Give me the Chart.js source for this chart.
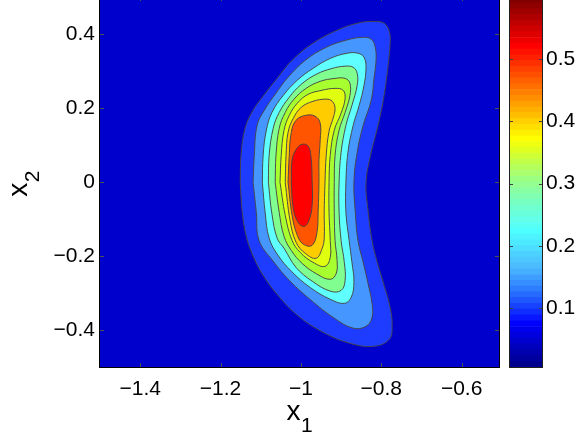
<!DOCTYPE html>
<html><head><meta charset="utf-8">
<script src="https://cdn.jsdelivr.net/npm/chart.js@4/dist/chart.umd.min.js"></script>
<style>
html,body{margin:0;padding:0;background:#fff;width:584px;height:439px;overflow:hidden;position:relative}
#main{position:absolute;left:0;top:-10px}
#cb{position:absolute;left:500px;top:-10px}
</style></head><body>
<canvas id="main" width="505" height="449"></canvas>
<canvas id="cb" width="84" height="449"></canvas>
<script>
// ---- axes / ticks ----
const xRange = [-1.5, -0.507];
const yRange = [-0.5, 0.5];
const cbRange = [0.005, 0.6];
const xTickVals = [-1.4, -1.2, -1, -0.8, -0.6];
const yTickVals = [-0.4, -0.2, 0, 0.2, 0.4];
const cbTickVals = [0.1, 0.2, 0.3, 0.4, 0.5];
const xLabel = ['x', '1'];
const yLabel = ['x', '2'];

// ---- contour lines (x1, x2), outermost first ----
const contour1 = [[-1.151,-0.001],[-1.149,0.072],[-1.139,0.145],[-1.119,0.194],[-1.094,0.232],[-1.057,0.283],[-1.022,0.329],[-0.970,0.375],[-0.910,0.410],[-0.860,0.429],[-0.820,0.434],[-0.793,0.429],[-0.780,0.407],[-0.778,0.375],[-0.783,0.315],[-0.793,0.234],[-0.808,0.153],[-0.825,0.080],[-0.838,-0.001],[-0.833,-0.076],[-0.823,-0.158],[-0.810,-0.217],[-0.793,-0.279],[-0.778,-0.339],[-0.773,-0.390],[-0.780,-0.425],[-0.818,-0.444],[-0.878,-0.436],[-0.945,-0.406],[-1.009,-0.360],[-1.059,-0.304],[-1.096,-0.249],[-1.121,-0.195],[-1.136,-0.147],[-1.146,-0.082],[-1.151,-0.001]];
const contour2 = [[-1.119,-0.001],[-1.116,0.072],[-1.109,0.153],[-1.091,0.194],[-1.062,0.240],[-1.032,0.283],[-0.989,0.329],[-0.937,0.364],[-0.888,0.383],[-0.848,0.391],[-0.825,0.386],[-0.815,0.364],[-0.813,0.329],[-0.818,0.280],[-0.825,0.221],[-0.845,0.153],[-0.860,0.080],[-0.868,-0.001],[-0.865,-0.076],[-0.858,-0.158],[-0.845,-0.217],[-0.833,-0.274],[-0.823,-0.328],[-0.823,-0.366],[-0.838,-0.390],[-0.870,-0.395],[-0.917,-0.368],[-0.972,-0.322],[-1.027,-0.268],[-1.069,-0.214],[-1.104,-0.158],[-1.111,-0.082],[-1.119,-0.001]];
const contour3 = [[-1.096,-0.001],[-1.094,0.072],[-1.086,0.140],[-1.072,0.188],[-1.044,0.234],[-1.009,0.275],[-0.970,0.307],[-0.927,0.334],[-0.885,0.348],[-0.858,0.348],[-0.843,0.337],[-0.838,0.310],[-0.843,0.261],[-0.855,0.207],[-0.870,0.153],[-0.883,0.080],[-0.888,-0.001],[-0.888,-0.082],[-0.880,-0.158],[-0.873,-0.217],[-0.868,-0.271],[-0.875,-0.312],[-0.892,-0.328],[-0.927,-0.317],[-0.977,-0.285],[-1.024,-0.241],[-1.057,-0.198],[-1.079,-0.152],[-1.089,-0.082],[-1.096,-0.001]];
const contour4 = [[-1.081,-0.001],[-1.079,0.072],[-1.069,0.145],[-1.054,0.188],[-1.029,0.229],[-0.999,0.264],[-0.962,0.291],[-0.922,0.307],[-0.890,0.313],[-0.870,0.310],[-0.860,0.294],[-0.860,0.261],[-0.873,0.207],[-0.888,0.153],[-0.900,0.080],[-0.905,-0.001],[-0.905,-0.082],[-0.900,-0.158],[-0.892,-0.217],[-0.890,-0.266],[-0.900,-0.293],[-0.927,-0.295],[-0.972,-0.268],[-1.012,-0.231],[-1.042,-0.179],[-1.059,-0.152],[-1.072,-0.087],[-1.081,-0.001]];
const contour5 = [[-1.064,-0.001],[-1.062,0.072],[-1.054,0.145],[-1.039,0.188],[-1.017,0.224],[-0.987,0.253],[-0.952,0.272],[-0.915,0.280],[-0.890,0.280],[-0.878,0.267],[-0.878,0.234],[-0.890,0.188],[-0.905,0.140],[-0.915,0.072],[-0.917,-0.001],[-0.917,-0.082],[-0.915,-0.158],[-0.910,-0.212],[-0.912,-0.247],[-0.927,-0.263],[-0.960,-0.249],[-0.997,-0.220],[-1.024,-0.185],[-1.042,-0.147],[-1.054,-0.082],[-1.064,-0.001]];
const contour6 = [[-1.052,-0.001],[-1.049,0.072],[-1.042,0.140],[-1.029,0.180],[-1.009,0.213],[-0.982,0.237],[-0.947,0.248],[-0.915,0.253],[-0.895,0.248],[-0.890,0.226],[-0.900,0.186],[-0.917,0.140],[-0.927,0.072],[-0.930,-0.001],[-0.930,-0.082],[-0.927,-0.158],[-0.927,-0.204],[-0.940,-0.228],[-0.970,-0.217],[-1.002,-0.190],[-1.022,-0.158],[-1.039,-0.090],[-1.052,-0.001]];
const contour7 = [[-1.039,-0.001],[-1.037,0.072],[-1.032,0.134],[-1.019,0.172],[-0.999,0.202],[-0.970,0.218],[-0.937,0.224],[-0.922,0.218],[-0.915,0.199],[-0.920,0.172],[-0.930,0.137],[-0.937,0.072],[-0.940,-0.001],[-0.942,-0.082],[-0.942,-0.152],[-0.947,-0.179],[-0.962,-0.206],[-0.989,-0.193],[-1.012,-0.163],[-1.027,-0.104],[-1.039,-0.001]];
const contour8 = [[-1.032,-0.001],[-1.029,0.072],[-1.024,0.134],[-1.012,0.167],[-0.989,0.180],[-0.965,0.178],[-0.952,0.159],[-0.952,0.113],[-0.955,0.059],[-0.955,-0.001],[-0.957,-0.076],[-0.960,-0.136],[-0.972,-0.171],[-0.994,-0.168],[-1.009,-0.144],[-1.022,-0.090],[-1.032,-0.001]];
const contour9 = [[-1.024,-0.001],[-1.022,0.059],[-1.012,0.088],[-0.997,0.102],[-0.982,0.097],[-0.975,0.069],[-0.972,-0.001],[-0.972,-0.063],[-0.980,-0.104],[-0.992,-0.120],[-1.007,-0.109],[-1.019,-0.071],[-1.024,-0.001]];

// fill colour inside each contour, and the level below the first contour
const bgColor = '#0000CD';
const bandColors = ['#1E3CFF','#4696FF','#5FFFFF','#80FF90','#A8FF30','#E0FF10','#FFCC00','#FF5500','#FF0000'];
const lineColor = 'rgba(70,70,70,0.95)';

const FONT = '"Liberation Sans", Arial, Helvetica, sans-serif';
const fmt = v => (v < 0 ? '\u2212' : '') + String(Math.abs(v));

const contours = [contour1, contour2, contour3, contour4, contour5, contour6, contour7, contour8, contour9];
const datasets = contours.map((c, i) => ({
  data: c.map(p => ({x: p[0], y: p[1]})),
  backgroundColor: bandColors[i],
  borderColor: lineColor,
  borderWidth: 1,
  fill: 'shape',
  tension: 0.4,
  pointRadius: 0,
  pointHoverRadius: 0,
  order: contours.length - i
}));

const noPad = s => { s.paddingTop = 0; s.paddingBottom = 0; s.paddingLeft = 0; s.paddingRight = 0; };

const mainDeco = {
  id: 'mainDeco',
  beforeDatasetsDraw(chart) {
    const {ctx, chartArea: a} = chart;
    ctx.save();
    ctx.fillStyle = bgColor;
    ctx.fillRect(a.left, a.top, a.right - a.left, a.bottom - a.top);
    ctx.restore();
  },
  afterDatasetsDraw(chart) {
    const {ctx, chartArea: a, scales} = chart;
    ctx.save();
    ctx.strokeStyle = '#505050';
    ctx.lineWidth = 1;
    ctx.beginPath();
    xTickVals.forEach(v => {
      const px = Math.round(scales.x.getPixelForValue(v)) + 0.5;
      ctx.moveTo(px, a.bottom); ctx.lineTo(px, a.bottom - 4);
      ctx.moveTo(px, a.top); ctx.lineTo(px, a.top + 4);
    });
    yTickVals.forEach(v => {
      const py = Math.round(scales.y.getPixelForValue(v)) + 0.5;
      ctx.moveTo(a.left, py); ctx.lineTo(a.left + 4, py);
      ctx.moveTo(a.right, py); ctx.lineTo(a.right - 4, py);
    });
    ctx.stroke();
    ctx.strokeStyle = '#000';
    ctx.strokeRect(a.left - 0.5, a.top - 0.5, a.right - a.left + 1, a.bottom - a.top + 1);
    ctx.restore();
  },
  afterDraw(chart) {
    const ctx = chart.ctx;
    ctx.save();
    ctx.fillStyle = '#000';
    ctx.textAlign = 'left';
    ctx.textBaseline = 'alphabetic';
    ctx.font = '28px ' + FONT;
    ctx.fillText(xLabel[0], 286.5, 430);
    ctx.font = '21px ' + FONT;
    ctx.fillText(xLabel[1], 301, 441.5);
    ctx.translate(26.5, 206.7);
    ctx.rotate(-Math.PI / 2);
    ctx.font = '28px ' + FONT;
    ctx.fillText(yLabel[0], 0, 0);
    ctx.font = '21px ' + FONT;
    ctx.fillText(yLabel[1], 14.5, 12);
    ctx.restore();
  }
};

new Chart(document.getElementById('main'), {
  type: 'line',
  data: {datasets},
  options: {
    responsive: false,
    animation: false,
    events: [],
    layout: {padding: {left: 0, top: 7, right: 6, bottom: 0}},
    plugins: {legend: {display: false}, tooltip: {enabled: false}, filler: {propagate: false}},
    scales: {
      x: {
        type: 'linear', min: xRange[0], max: xRange[1],
        afterBuildTicks: s => { s.ticks = xTickVals.map(v => ({value: v})); },
        afterFit: s => { s.height = 72; noPad(s); },
        grid: {display: false, drawTicks: false},
        border: {display: false},
        ticks: {padding: 10, color: '#000', font: {family: FONT, size: 21}, autoSkip: false, maxRotation: 0, callback: fmt}
      },
      y: {
        type: 'linear', min: yRange[0], max: yRange[1],
        afterBuildTicks: s => { s.ticks = yTickVals.map(v => ({value: v})); },
        afterFit: s => { s.width = 100; noPad(s); },
        grid: {display: false, drawTicks: false},
        border: {display: false},
        ticks: {padding: 5, color: '#000', font: {family: FONT, size: 21}, autoSkip: false, callback: fmt}
      }
    }
  },
  plugins: [mainDeco]
});

// ---- colour bar (jet, 64 steps, toned like the picture) ----
function jet(m) {
  const n = Math.ceil(m / 4);
  const u = [];
  for (let i = 1; i <= n; i++) u.push(i / n);
  for (let i = 1; i < n; i++) u.push(1);
  for (let i = n; i >= 1; i--) u.push(i / n);
  const gOff = Math.ceil(n / 2) - (m % 4 === 1 ? 1 : 0);
  const r = new Array(m).fill(0), g = new Array(m).fill(0), b = new Array(m).fill(0);
  u.forEach((val, k) => {
    const gi = gOff + k + 1, ri = gi + n, bi = gi - n;
    if (gi >= 1 && gi <= m) g[gi - 1] = val;
    if (ri >= 1 && ri <= m) r[ri - 1] = val;
    if (bi >= 1 && bi <= m) b[bi - 1] = val;
  });
  return r.map((_, i) => {
    const k = i + 1;
    let w = 0;
    if (k > 8 && k < 18) w = 0.3 * (k - 8) / 10;
    else if (k >= 18 && k <= 26) w = 0.3;
    else if (k > 26 && k < 38) w = 0.3 * (38 - k) / 12;
    const mix = c => Math.round(c * 255 + w * (255 - c * 255));
    return `rgb(${mix(r[i])},${mix(g[i])},${mix(b[i])})`;
  });
}
const cmap = jet(64);
const step = (cbRange[1] - cbRange[0]) / cmap.length;
const cbDatasets = cmap.map((c, i) => ({
  data: [[cbRange[0] + i * step, cbRange[0] + (i + 1) * step]],
  backgroundColor: c,
  borderWidth: 0,
  grouped: false,
  barPercentage: 1,
  categoryPercentage: 1
}));

const cbDeco = {
  id: 'cbDeco',
  afterDatasetsDraw(chart) {
    const {ctx, chartArea: a, scales} = chart;
    ctx.save();
    ctx.strokeStyle = '#404040';
    ctx.lineWidth = 1;
    ctx.beginPath();
    cbTickVals.forEach(v => {
      const py = Math.round(scales.y.getPixelForValue(v)) + 0.5;
      ctx.moveTo(a.left, py); ctx.lineTo(a.left + 3, py);
      ctx.moveTo(a.right, py); ctx.lineTo(a.right - 3, py);
    });
    ctx.stroke();
    ctx.strokeStyle = '#202020';
    ctx.strokeRect(a.left - 0.5, a.top - 0.5, a.right - a.left + 1, a.bottom - a.top + 1);
    ctx.restore();
  }
};

new Chart(document.getElementById('cb'), {
  type: 'bar',
  data: {labels: [''], datasets: cbDatasets},
  options: {
    responsive: false,
    animation: false,
    events: [],
    layout: {padding: {left: 10, top: 7, right: 0, bottom: 72}},
    plugins: {legend: {display: false}, tooltip: {enabled: false}},
    scales: {
      x: {display: false},
      y: {
        position: 'right', min: cbRange[0], max: cbRange[1],
        afterBuildTicks: s => { s.ticks = cbTickVals.map(v => ({value: v})); },
        afterFit: s => { s.width = 42; noPad(s); },
        grid: {display: false, drawTicks: false},
        border: {display: false},
        ticks: {padding: 4, color: '#000', font: {family: FONT, size: 21}, autoSkip: false, callback: fmt}
      }
    }
  },
  plugins: [cbDeco]
});
</script>
</body></html>
